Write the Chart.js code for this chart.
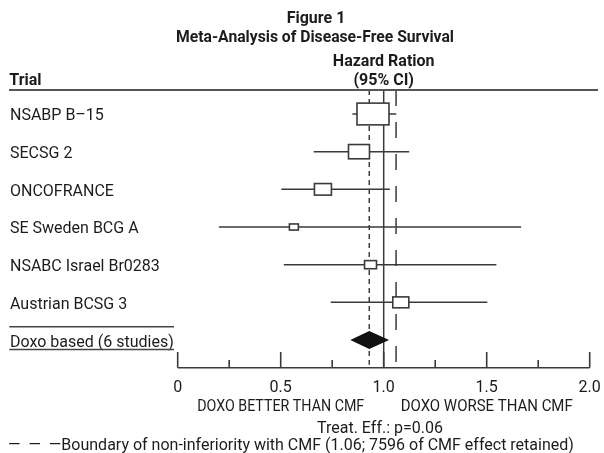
<!DOCTYPE html>
<html>
<head>
<meta charset="utf-8">
<script src="https://cdn.jsdelivr.net/npm/chart.js@4.4.1/dist/chart.umd.min.js"></script>
<style>
  html, body { margin: 0; padding: 0; background: #ffffff; }
  #wrap { position: relative; width: 604px; height: 453px; }
</style>
</head>
<body>
<div id="wrap"><canvas id="forestChart"></canvas></div>
<script>
// ---- data ----
const trials = [
  "NSABP B\u201315",
  "SECSG 2",
  "ONCOFRANCE",
  "SE Sweden BCG A",
  "NSABC Israel Br0283",
  "Austrian BCSG 3",
];
const hazard = [0.948, 0.88, 0.705, 0.564, 0.936, 1.083];
const ciLow = [0.848, 0.66, 0.503, 0.2, 0.515, 0.743];
const ciHigh = [1.061, 1.124, 1.03, 1.667, 1.547, 1.503];
const weights = [45.8, 19.7, 12.9, 3.6, 6.4, 11.5]; // % weight, sets box area

const pooledLabel = "Doxo based (6 studies)";
const pooled = [0.838, 0.93, 1.026]; // low, estimate, high

const noEffect = 1.0;
const pooledLine = 0.93;
const boundary = 1.06;

const majorTicks = [0, 0.5, 1.0, 1.5, 2.0];
const minorTicks = [0.25, 0.75, 1.25, 1.75];
const tickLabels = ["0", "0.5", "1.0", "1.5", "2.0"];

// ---- look ----
const INK = "#1c1c1c";
const LINE = "#3a3a3a";
const FONT = "Roboto, 'Liberation Sans', sans-serif";
const Y_TOP = -0.637;
const Y_BOT = 6.735;

// CI whiskers as one line dataset, broken by null points
const ciData = [];
trials.forEach(function (t, i) {
  ciData.push({ x: ciLow[i], y: i }, { x: ciHigh[i], y: i }, { x: null, y: null });
});

function vLine(xv, dash, yEnd) {
  return {
    type: "line",
    data: [{ x: xv, y: Y_TOP }, { x: xv, y: yEnd }],
    borderColor: LINE,
    borderWidth: 1.5,
    borderDash: dash,
    pointRadius: 0,
  };
}

// boxes + pooled diamond, drawn on the scales
const forestMarks = {
  id: "forestMarks",
  afterDatasetsDraw(chart) {
    const ctx = chart.ctx;
    const xs = chart.scales.x, ys = chart.scales.y;
    ctx.save();
    ctx.lineWidth = 1.6;
    ctx.strokeStyle = LINE;
    ctx.fillStyle = "#ffffff";
    hazard.forEach(function (h, i) {
      const w = 32 * Math.sqrt(weights[i] / weights[0]);
      const hgt = w * 0.68;
      const cx = xs.getPixelForValue(h), cy = ys.getPixelForValue(i);
      ctx.fillRect(cx - w / 2, cy - hgt / 2, w, hgt);
      ctx.strokeRect(cx - w / 2, cy - hgt / 2, w, hgt);
    });
    // diamond
    const dy = ys.getPixelForValue(trials.length);
    ctx.beginPath();
    ctx.moveTo(xs.getPixelForValue(pooled[0]), dy);
    ctx.lineTo(xs.getPixelForValue(pooled[1]), dy - 9);
    ctx.lineTo(xs.getPixelForValue(pooled[2]), dy);
    ctx.lineTo(xs.getPixelForValue(pooled[1]), dy + 9);
    ctx.closePath();
    ctx.fillStyle = "#111111";
    ctx.fill();
    ctx.restore();
  },
};

// axis ticks, labels, titles
const forestText = {
  id: "forestText",
  afterDraw(chart) {
    const ctx = chart.ctx;
    const xs = chart.scales.x, ys = chart.scales.y;
    const bottom = chart.chartArea.bottom;
    ctx.save();

    // axis line + ticks pointing up
    ctx.strokeStyle = LINE;
    ctx.lineWidth = 1.6;
    ctx.beginPath();
    ctx.moveTo(xs.getPixelForValue(0), bottom);
    ctx.lineTo(xs.getPixelForValue(2), bottom);
    majorTicks.forEach(function (v) {
      const px = xs.getPixelForValue(v);
      ctx.moveTo(px, bottom);
      ctx.lineTo(px, bottom - 15.7);
    });
    minorTicks.forEach(function (v) {
      const px = xs.getPixelForValue(v);
      ctx.moveTo(px, bottom);
      ctx.lineTo(px, bottom - 7.7);
    });
    ctx.stroke();

    // top rule
    ctx.lineWidth = 2;
    ctx.strokeStyle = "#555555";
    ctx.beginPath();
    ctx.moveTo(9, chart.chartArea.top);
    ctx.lineTo(598, chart.chartArea.top);
    ctx.stroke();

    ctx.fillStyle = INK;
    ctx.textBaseline = "alphabetic";

    // headings
    ctx.font = "bold 16px " + FONT;
    ctx.textAlign = "center";
    ctx.fillText("Figure 1", 316, 23.3);
    ctx.fillText("Meta-Analysis of Disease-Free Survival", 315, 41.7, 278);
    ctx.fillText("Hazard Ration", xs.getPixelForValue(noEffect), 66);
    ctx.fillText("(95% CI)", xs.getPixelForValue(noEffect), 84.5);
    ctx.textAlign = "left";
    ctx.fillText("Trial", 9.3, 84.5);

    // row labels
    ctx.font = "16px " + FONT;
    trials.forEach(function (t, i) {
      ctx.fillText(t, 10, ys.getPixelForValue(i) + 6.3);
    });
    const py = ys.getPixelForValue(trials.length);
    ctx.fillText(pooledLabel, 10, py + 6.5);
    const lw = ctx.measureText(pooledLabel).width;
    ctx.strokeStyle = "#444444";
    ctx.lineWidth = 1.4;
    ctx.beginPath();
    ctx.moveTo(9.3, py - 13.3);
    ctx.lineTo(9.3 + lw + 1, py - 13.3);
    ctx.moveTo(9.3, py + 9.5);
    ctx.lineTo(9.3 + lw + 1, py + 9.5);
    ctx.stroke();

    // bottom annotations
    ctx.textAlign = "center";
    ctx.fillText("DOXO BETTER THAN CMF", xs.getPixelForValue(0.5), 410.5, 167);
    ctx.fillText("DOXO WORSE THAN CMF", xs.getPixelForValue(1.5), 410.5, 172);
    ctx.fillText("Treat. Eff.: p=0.06", 380, 432.5);
    ctx.textAlign = "left";
    ctx.fillText("\u2014  \u2014  \u2014Boundary of non-inferiority with CMF (1.06; 7596 of CMF effect retained)", 8, 449.5, 586);
    ctx.restore();
  },
};

const ctx = document.getElementById("forestChart").getContext("2d");
const forestChart = new Chart(ctx, {
  type: "line",
  data: {
    datasets: [
      vLine(noEffect, [], Y_BOT),
      vLine(pooledLine, [5, 4], 6.66),
      vLine(boundary, [16, 16], 6.6),
      {
        type: "line",
        data: ciData,
        borderColor: LINE,
        borderWidth: 1.5,
        pointRadius: 0,
        spanGaps: false,
      },
    ],
  },
  options: {
    responsive: true,
    maintainAspectRatio: false,
    animation: false,
    layout: { padding: { left: 177.7, right: 14.3, top: 90, bottom: 0 } },
    scales: {
      x: {
        type: "linear",
        min: 0,
        max: 2,
        grid: { display: false },
        border: { display: false },
        afterBuildTicks: function (scale) {
          scale.ticks = majorTicks.map(function (v) { return { value: v }; });
        },
        afterFit: function (scale) { scale.height = 85.3; },
        ticks: {
          padding: 3,
          color: INK,
          font: { family: FONT, size: 16 },
          maxRotation: 0,
          callback: function (v, i) { return tickLabels[i]; },
        },
      },
      y: {
        type: "linear",
        display: false,
        reverse: true,
        min: Y_TOP,
        max: Y_BOT,
      },
    },
    plugins: {
      legend: { display: false },
      tooltip: { enabled: false },
    },
  },
  plugins: [forestMarks, forestText],
});
</script>
</body>
</html>
